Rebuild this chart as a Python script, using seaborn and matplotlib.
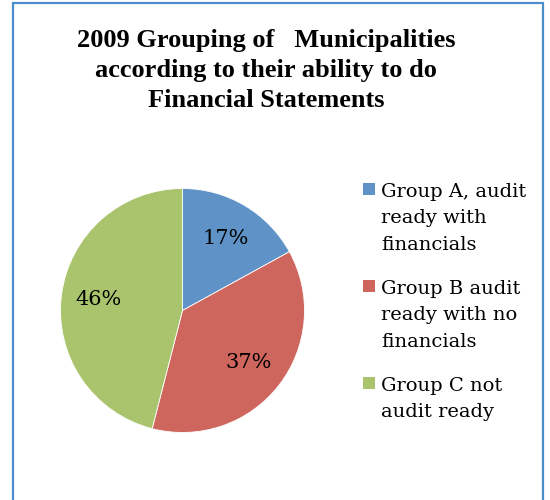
import matplotlib
matplotlib.use("Agg")
import matplotlib.pyplot as plt
from matplotlib.patches import Rectangle
import seaborn as sns

# data
groups = ["Group A, audit\nready with\nfinancials",
          "Group B audit\nready with no\nfinancials",
          "Group C not\naudit ready"]
shares = [17, 37, 46]
colors = ["#5F93C8", "#CE665E", "#A9C46C"]
title = "2009 Grouping of   Municipalities\naccording to their ability to do\nFinancial Statements"

sns.set_theme(style="white")
plt.rcParams['font.family'] = ['DejaVu Serif']
plt.rcParams['text.color'] = 'black'

W, H = 550, 500
fig = plt.figure(figsize=(W / 100, H / 100), dpi=100)
fig.patch.set_facecolor("white")

# chart area border
fig.patches.append(Rectangle((13 / W, -0.02), 530 / W, 1.02 - 3 / H,
                             transform=fig.transFigure, fill=False,
                             edgecolor="#4A8FCB", linewidth=1.6))

fig.text(266 / W, 1 - 29 / H, title, ha="center", va="top",
         fontsize=19, fontweight="bold", linespacing=1.4,
         family="Liberation Serif")

# pie
cx, cy, r = 182.5, 310.5, 122
ax = fig.add_axes([(cx - r) / W, 1 - (cy + r) / H, 2 * r / W, 2 * r / H])
wedges, texts = ax.pie(shares, colors=colors, startangle=90, counterclock=False,
                       labels=[f"{s}%" for s in shares], labeldistance=0.69,
                       wedgeprops=dict(edgecolor="white", linewidth=0.6),
                       textprops=dict(fontsize=15, color="black"))
for t in texts:
    t.set_horizontalalignment("center")
    t.set_verticalalignment("center")
ax.set_aspect("auto")
ax.set_xlim(-1, 1)
ax.set_ylim(-1, 1)
ax.axis("off")

# legend
top = 183
for i, (g, c) in enumerate(zip(groups, colors)):
    y = top + i * 97
    fig.patches.append(Rectangle((363 / W, 1 - (y + 12) / H), 12 / W, 12 / H,
                                 transform=fig.transFigure, facecolor=c,
                                 edgecolor="none"))
    fig.text(381 / W, 1 - y / H, g, ha="left", va="top",
             fontsize=14, linespacing=1.6)

fig.savefig("out.png", dpi=100)
